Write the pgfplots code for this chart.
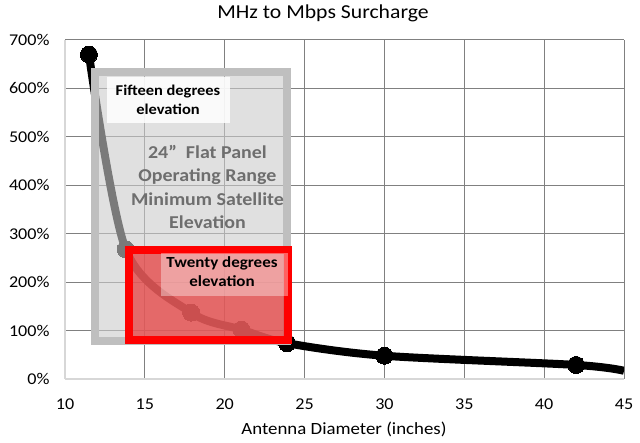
\documentclass[border=0pt]{standalone}
\usepackage{pgfplots}
\pgfplotsset{compat=1.18}
\usepackage{fontspec}
\setmainfont{Carlito}[FakeStretch=1.1]
\definecolor{gridgray}{RGB}{128,128,128}
\definecolor{axgray}{RGB}{215,215,215}
\definecolor{boxgray}{RGB}{204,204,204}
\definecolor{bordergray}{RGB}{191,191,191}
\definecolor{redfill}{RGB}{230,64,64}
\definecolor{textgray}{RGB}{110,110,110}
\begin{document}
\begin{tikzpicture}
\begin{axis}[
  set layers,
  at={(65bp,64bp)}, anchor=south west,
  scale only axis, width=559bp, height=339bp,
  xmin=10, xmax=45, ymin=0, ymax=700,
  xtick={10,15,...,45}, ytick={0,100,...,700},
  grid=major,
  grid style={draw=gridgray, line width=1bp},
  axis x line*=bottom, axis y line*=left,
  axis line style={draw=axgray, line width=1.5bp, -},
  major tick length=0pt,
  /pgf/number format/assume math mode=true,
  ticklabel style={font=\fontsize{16.5}{20}\selectfont},
  yticklabel={\pgfmathprintnumber{\tick}\%},
  yticklabel style={xshift=-12bp},
  xticklabel style={yshift=-16bp},
]
\addplot[black, line width=8bp, smooth, mark=*, mark size=8.5bp,
  mark options={line width=0pt, fill=black}, mark indices={1,2,3,4,5,6,7}]
  coordinates {(11.5,670) (13.8,268) (17.9,137) (21.05,102) (23.9,74) (30,48) (42,29) (45,17)};
\begin{pgfonlayer}{axis foreground}
% gray box
\fill[boxgray, fill opacity=0.6] (axis cs:11.88,78.5) rectangle (axis cs:23.93,633);
\draw[bordergray, line width=8bp] (axis cs:11.88,78.5) rectangle (axis cs:23.93,633);
% red box
\fill[redfill, fill opacity=0.74] (axis cs:14.0,80.5) rectangle (axis cs:23.96,267);
\draw[red, line width=8bp] (axis cs:14.0,80.5) rectangle (axis cs:23.96,267);
% label boxes
\fill[white, fill opacity=0.85] (axis cs:12.63,528.6) rectangle (axis cs:20.33,623.6);
\fill[white, fill opacity=0.38] (axis cs:16.01,171) rectangle (axis cs:23.96,260);
\node[align=center, font=\bfseries\fontsize{15}{19}\selectfont] at (axis cs:16.45,576) {Fifteen degrees\\elevation};
\node[align=center, text=textgray, font=\bfseries\fontsize{18.2}{23.5}\selectfont] at (axis cs:18.92,396.5) {24”\ \ Flat Panel\\Operating Range\\Minimum Satellite\\Elevation};
\node[align=center, font=\bfseries\fontsize{15.5}{19}\selectfont] at (axis cs:19.83,221) {Twenty degrees\\elevation};
\end{pgfonlayer}
\end{axis}
\node[font=\fontsize{19.8}{25}\selectfont] at (323bp,430bp) {MHz to Mbps Surcharge};
\node[font=\fontsize{17.2}{22}\selectfont] at (344bp,14bp) {Antenna Diameter (inches)};
\path (0,0) rectangle (640bp,443bp);
\end{tikzpicture}
\end{document}
